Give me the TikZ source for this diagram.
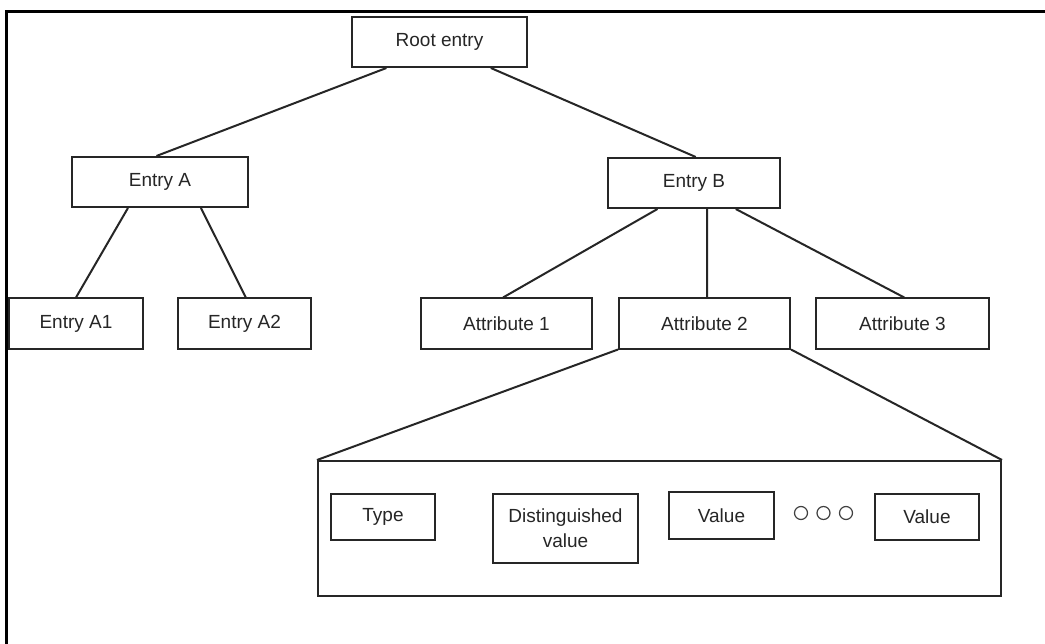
\documentclass[tikz,border=0pt]{standalone}
\usepackage{fontspec}
\setmainfont{Liberation Sans}
\usetikzlibrary{calc}
\begin{document}
\begin{tikzpicture}[x=1bp,y=-1bp,
  box/.style={draw=black!85, line width=2bp, inner sep=0pt, fill=white,
    text=black!85, font=\fontsize{19bp}{25bp}\selectfont, align=center},
  link/.style={draw=black!85, line width=2bp},
  frame/.style={draw=black, line width=3bp},
  dot/.style={circle, draw=black!75, line width=1.2bp, inner sep=0pt, minimum size=13bp}]
\useasboundingbox (0,0) rectangle (1045,644);
\fill[white] (0,0) rectangle (1045,644);
\draw[frame] (6,646) -- (6,12) -- (1047,12);

% tree nodes
\node[box, minimum width=175bp, minimum height=50bp] (root) at (439.5,42) {Root entry};
\node[box, minimum width=176bp, minimum height=50bp] (ea) at (160,182) {Entry A};
\node[box, minimum width=172bp, minimum height=50bp] (eb) at (694,183) {Entry B};
\node[box, minimum width=134bp, minimum height=50bp] (ea1) at (76,323.5) {Entry A1};
\node[box, minimum width=133bp, minimum height=50bp] (ea2) at (244.5,323.5) {Entry A2};
\node[box, minimum width=171bp, minimum height=50bp] (at1) at (506.5,323.5) {Attribute 1};
\node[box, minimum width=171bp, minimum height=50bp] (at2) at (704.5,323.5) {Attribute 2};
\node[box, minimum width=173bp, minimum height=50bp] (at3) at (902.5,323.5) {Attribute 3};

% expanded attribute
\node[draw=black!85, line width=2bp, inner sep=0pt, minimum width=683bp, minimum height=135bp] (big) at (659.5,528.5) {};
\node[box, minimum width=104bp, minimum height=46bp] (type) at (383,517) {Type};
\node[box, minimum width=145bp, minimum height=69bp] (dist) at (565.5,528.5) {Distinguished\\value};
\node[box, minimum width=105bp, minimum height=47bp] (v1) at (721.5,515.5) {Value};
\node[dot] (d1) at (801,513) {};
\node[dot] (d2) at (823.5,513) {};
\node[dot] (d3) at (846,513) {};
\node[box, minimum width=104bp, minimum height=46bp] (v2) at (927,517) {Value};

% connectors
\draw[link] ($(root.south west)!0.2!(root.south east)$) -- ($(ea.north west)!0.48!(ea.north east)$);
\draw[link] ($(root.south west)!0.79!(root.south east)$) -- ($(eb.north west)!0.51!(eb.north east)$);
\draw[link] ($(ea.south west)!0.32!(ea.south east)$) -- (ea1.north);
\draw[link] ($(ea.south west)!0.73!(ea.south east)$) -- ($(ea2.north west)!0.51!(ea2.north east)$);
\draw[link] ($(eb.south west)!0.29!(eb.south east)$) -- ($(at1.north west)!0.48!(at1.north east)$);
\draw[link] ($(eb.south west)!0.576!(eb.south east)$) -- ($(at2.north west)!0.515!(at2.north east)$);
\draw[link] ($(eb.south west)!0.74!(eb.south east)$) -- ($(at3.north west)!0.51!(at3.north east)$);
\draw[link] (at2.south west) -- (big.north west);
\draw[link] (at2.south east) -- (big.north east);
\end{tikzpicture}
\end{document}
